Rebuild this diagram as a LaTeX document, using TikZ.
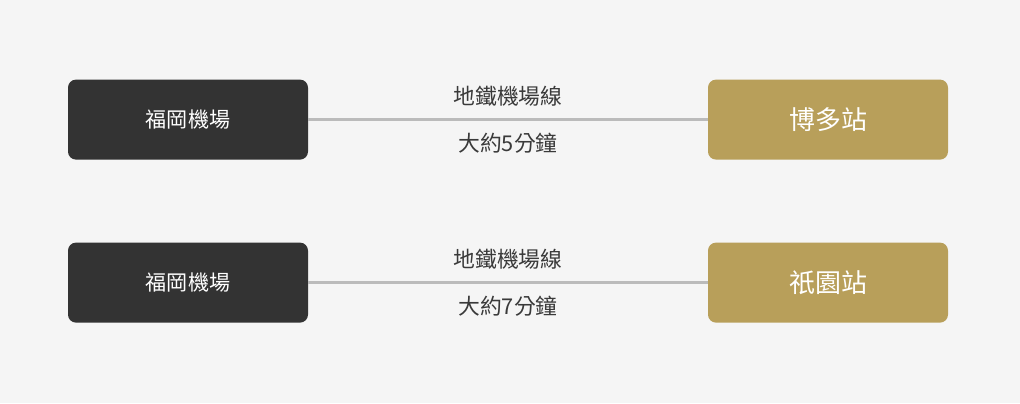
\documentclass[tikz,border=0pt]{standalone}
\usepackage{fontspec}
\setmainfont{Noto Sans CJK TC}
\definecolor{pagebg}{HTML}{F5F5F5}
\definecolor{airportgray}{HTML}{333333}
\definecolor{stationgold}{HTML}{B89F5A}
\definecolor{linegray}{HTML}{BBBBBB}
\definecolor{labelgray}{HTML}{3A3A3A}
\tikzset{
  airport/.style={fill=airportgray, rounded corners=0.2cm, minimum width=6cm, minimum height=2cm,
    text=white, font=\fontsize{15}{18}\selectfont, inner sep=0pt},
  station/.style={fill=stationgold, rounded corners=0.2cm, minimum width=6cm, minimum height=2cm,
    text=white, font=\fontsize{18.5}{22}\selectfont, inner sep=0pt},
  route/.style={draw=linegray, line width=0.08cm},
  routelabel/.style={text=labelgray, font=\fontsize{15.5}{18}\selectfont, inner sep=0pt}
}

\begin{document}
\begin{tikzpicture}
  \filldraw[fill=pagebg, draw=none] (0cm,0cm) rectangle (25.5cm,-10.075cm);
  % row 1
  \node[airport] (fukuokaA) at (4.7cm,-2.99cm) {福岡機場};
  \node[station] (hakata) at (20.7cm,-2.99cm) {博多站};
  \draw[route] (fukuokaA) -- (hakata)
    node[routelabel, midway, above=0.3cm] (lineA) {地鐵機場線}
    node[routelabel, midway, below=0.3cm] (timeA) {大約5分鐘};
  % row 2
  \node[airport] (fukuokaB) at (4.7cm,-7.065cm) {福岡機場};
  \node[station] (gion) at (20.7cm,-7.065cm) {祇園站};
  \draw[route] (fukuokaB) -- (gion)
    node[routelabel, midway, above=0.3cm] (lineB) {地鐵機場線}
    node[routelabel, midway, below=0.3cm] (timeB) {大約7分鐘};
\end{tikzpicture}
\end{document}
